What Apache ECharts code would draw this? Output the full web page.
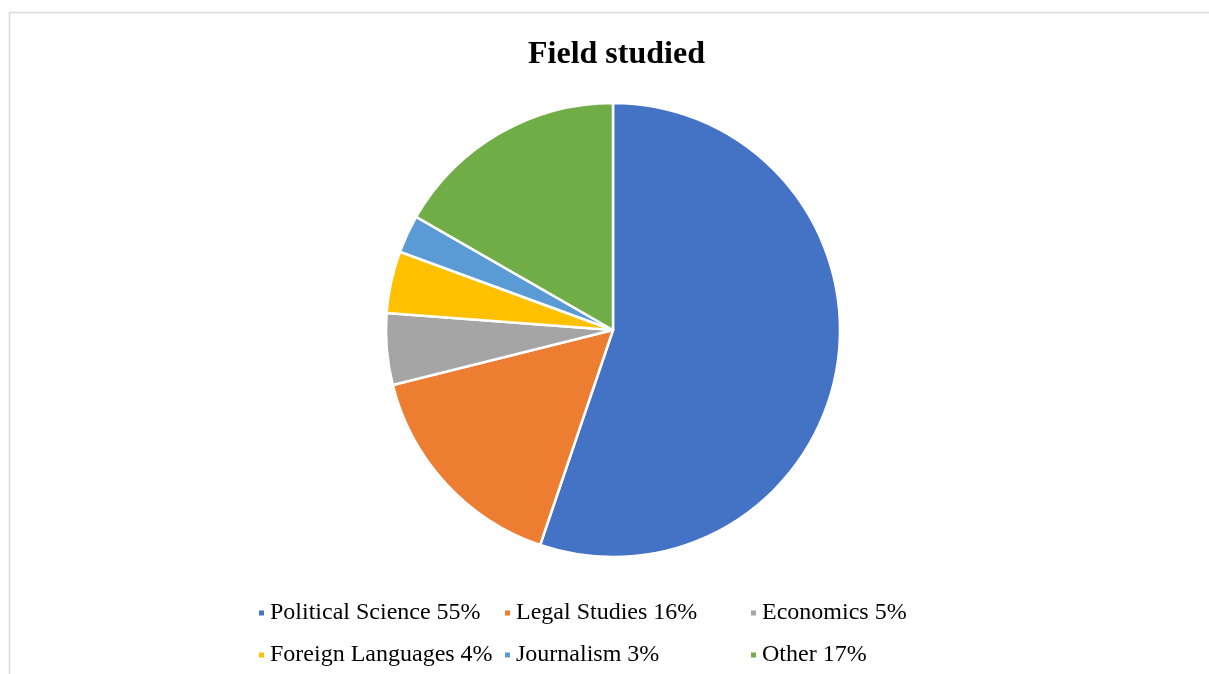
<!DOCTYPE html>
<html>
<head>
<meta charset="utf-8">
<script src="https://cdn.jsdelivr.net/npm/echarts@6/dist/echarts.min.js"></script>
<style>
html,body{margin:0;padding:0;background:#fff;}
#c{width:1209px;height:674px;}
</style>
</head>
<body>
<div id="c"></div>
<script>
const categories = ["Political Science", "Legal Studies", "Economics", "Foreign Languages", "Journalism", "Other"];
const values = [55.2, 15.9, 5.1, 4.4, 2.7, 16.7];
const pctLabels = ["55%", "16%", "5%", "4%", "3%", "17%"];
const colors = ["#4472C4", "#ED7D31", "#A5A5A5", "#FFC000", "#5B9BD5", "#70AD47"];

const chart = echarts.init(document.getElementById('c'));
const serif = "'Liberation Serif', 'Times New Roman', serif";
function makeLegend(left, names) {
  return {
    orient: 'vertical',
    left: left,
    top: 596,
    itemWidth: 7,
    itemHeight: 7,
    itemGap: 18,
    icon: 'rect',
    data: names,
    formatter: function (name) {
      return name + ' ' + pctLabels[categories.indexOf(name)];
    },
    textStyle: {fontFamily: serif, fontSize: 24, lineHeight: 24, color: '#000'}
  };
}
chart.setOption({
  animation: false,
  color: colors,
  title: {
    text: "Field studied",
    left: 523,
    top: 34,
    textStyle: {fontFamily: serif, fontSize: 32, fontWeight: 'bold', color: '#000'}
  },
  graphic: [{
    type: 'rect',
    shape: {x: 9.5, y: 12.5, width: 1400, height: 900},
    style: {fill: 'none', stroke: '#d9d9d9', lineWidth: 1.5},
    silent: true
  }],
  legend: [
    makeLegend(252, [categories[0], categories[3]]),
    makeLegend(498, [categories[1], categories[4]]),
    makeLegend(744, [categories[2], categories[5]])
  ],
  series: [{
    type: 'pie',
    center: [613, 330],
    radius: [0, 227],
    startAngle: 90,
    clockwise: true,
    label: {show: false},
    labelLine: {show: false},
    itemStyle: {borderColor: '#fff', borderWidth: 2.5},
    emphasis: {disabled: true},
    data: categories.map((n, i) => ({name: n, value: values[i]}))
  }]
});
</script>
</body>
</html>
